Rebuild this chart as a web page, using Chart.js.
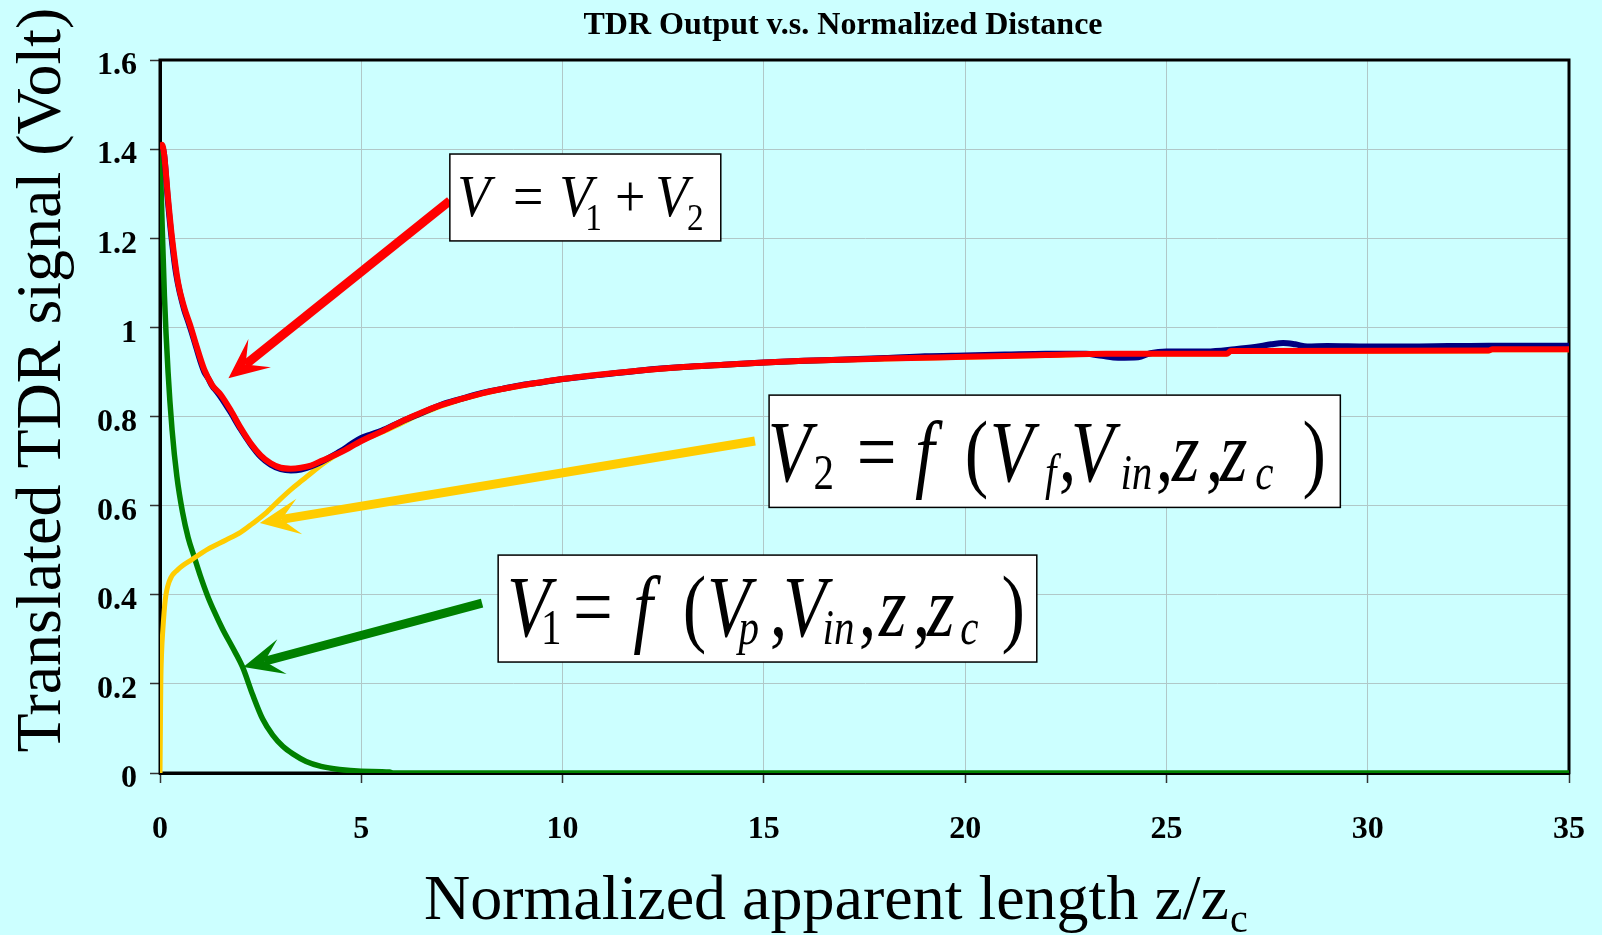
<!DOCTYPE html>
<html>
<head>
<meta charset="utf-8">
<title>TDR Output v.s. Normalized Distance</title>
<script src="https://cdn.jsdelivr.net/npm/chart.js@4.4.1/dist/chart.umd.min.js"></script>
<style>
  html, body { margin: 0; padding: 0; background: #ccffff; }
  canvas { display: block; }
</style>
</head>
<body>
<canvas id="tdrChart" width="1602" height="935"></canvas>
<script>
"use strict";

// ---- axis ticks ----
const xTicks = [0, 5, 10, 15, 20, 25, 30, 35];
const xTickLabels = ["0", "5", "10", "15", "20", "25", "30", "35"];
const yTicks = [0, 0.2, 0.4, 0.6, 0.8, 1, 1.2, 1.4, 1.6];
const yTickLabels = ["0", "0.2", "0.4", "0.6", "0.8", "1", "1.2", "1.4", "1.6"];

// ---- measured TDR trace (blue) ----
const xMeasured = [0, 0.05, 0.1, 0.2, 0.3, 0.4, 0.5, 0.6, 0.7, 0.8,
  0.9, 1.0, 1.1, 1.2, 1.3, 1.4, 1.5, 1.75, 2.0, 2.25,
  2.5, 2.75, 3.0, 3.25, 3.5, 3.75, 4.0, 4.25, 4.5, 4.75,
  5.0, 5.25, 5.5, 6.0, 6.5, 7.0, 7.5, 8.0, 8.5, 9.0,
  9.5, 10, 11, 12, 13, 14, 15, 16, 17, 18,
  19, 20, 21, 22, 23, 23.4, 23.8, 24.3, 24.6, 25,
  26, 26.7, 27.2, 27.6, 27.9, 28.2, 28.5, 29, 30, 31,
  32, 33, 34, 35];
const vMeasured = [1.40, 1.405, 1.39, 1.28, 1.19, 1.12, 1.075, 1.04, 1.013, 0.985,
  0.955, 0.925, 0.9, 0.885, 0.868, 0.857, 0.845, 0.81, 0.772, 0.738,
  0.71, 0.692, 0.682, 0.679, 0.681, 0.688, 0.698, 0.71, 0.723, 0.738,
  0.752, 0.76, 0.768, 0.789, 0.808, 0.827, 0.84, 0.853, 0.862, 0.871,
  0.877, 0.884, 0.894, 0.904, 0.911, 0.916, 0.921, 0.925, 0.928, 0.931,
  0.935, 0.937, 0.939, 0.941, 0.941, 0.936, 0.932, 0.933, 0.942, 0.946,
  0.946, 0.951, 0.956, 0.962, 0.965, 0.962, 0.957, 0.958, 0.957, 0.957,
  0.958, 0.959, 0.959, 0.959];

// ---- model V = V1 + V2 (red) ----
const xModel = [0, 0.05, 0.1, 0.2, 0.3, 0.45, 0.6, 0.75, 0.9, 1.1,
  1.3, 1.5, 1.75, 2.0, 2.25, 2.5, 2.75, 3.0, 3.25, 3.5,
  3.75, 4.0, 4.5, 5.0, 5.5, 6.0, 6.5, 7.0, 8, 9,
  10, 11, 12, 13, 14, 15, 16, 18, 20, 22,
  23.5, 26.5, 26.6, 33, 33.1, 35];
const vModel = [1.40, 1.41, 1.39, 1.29, 1.20, 1.10, 1.045, 1.005, 0.96, 0.905,
  0.87, 0.85, 0.815, 0.775, 0.74, 0.713, 0.695, 0.685, 0.683, 0.685,
  0.69, 0.70, 0.72, 0.745, 0.766, 0.789, 0.809, 0.826, 0.852, 0.870,
  0.884, 0.895, 0.904, 0.911, 0.916, 0.921, 0.925, 0.930, 0.934, 0.938,
  0.941, 0.941, 0.947, 0.948, 0.951, 0.951];

// ---- V2 component (yellow) ----
const xV2 = [0, 0.01, 0.02, 0.04, 0.07, 0.13, 0.23, 0.44, 0.81, 1.2,
  1.64, 2.0, 2.3, 2.65, 2.97, 3.25, 3.55, 3.85, 4.13, 4.45,
  4.79, 5.2, 5.6, 6.0, 6.5, 7.0, 8, 9, 10, 11,
  12, 13, 14, 15, 16, 18, 20, 22, 23.5, 26.5,
  26.6, 33, 33.1, 35];
const vV2 = [0, 0.1, 0.2, 0.27, 0.32, 0.388, 0.43, 0.456, 0.48, 0.503,
  0.523, 0.54, 0.56, 0.585, 0.613, 0.636, 0.658, 0.68, 0.699, 0.718,
  0.736, 0.753, 0.768, 0.785, 0.806, 0.824, 0.851, 0.869, 0.883, 0.894,
  0.903, 0.910, 0.915, 0.920, 0.924, 0.929, 0.933, 0.937, 0.940, 0.940,
  0.946, 0.947, 0.950, 0.950];

// ---- V1 component (green) ----
const xV1 = [0, 0.05, 0.11, 0.2, 0.3, 0.42, 0.56, 0.7, 0.85, 1.0,
  1.18, 1.35, 1.56, 1.8, 2.05, 2.3, 2.55, 2.8, 3.05, 3.3,
  3.63, 4.0, 4.46, 5.0, 5.7, 5.8, 35];
const vV1 = [1.40, 1.24, 1.07, 0.90, 0.77, 0.665, 0.585, 0.528, 0.485, 0.443,
  0.398, 0.362, 0.322, 0.282, 0.238, 0.176, 0.121, 0.085, 0.06, 0.043,
  0.026, 0.015, 0.008, 0.004, 0.002, 0, 0];

const FONT = "'Times New Roman', 'Liberation Serif', serif";
const BG = "#ccffff";
const titleText = "TDR Output v.s. Normalized Distance";
const yLabel = "Translated TDR signal (Volt)";
const xLabelMain = "Normalized apparent length z/z";
const xLabelSub = "c";

// equation boxes: corners in data units, glyph offsets in px from the box's left edge
const equations = [
  { x0: 7.20, y0: 1.389, x1: 13.93, y1: 1.194, size: 60, subSize: 37, base: 62, subBase: 76, sx: 0.9,
    tokens: [["V", "i", 10], ["=", "r", 65], ["V", "i", 112], ["1", "sr", 138], ["+", "r", 167],
             ["V", "i", 208], ["2", "sr", 238]] },
  { x0: 15.13, y0: 0.848, x1: 29.32, y1: 0.596, size: 86, subSize: 50, base: 86, subBase: 94, sx: 0.82,
    tokens: [["V", "i", 2], ["2", "sr", 46], ["=", "r", 91], ["f", "i", 146], ["(", "r", 198],
             ["V", "i", 224], ["f", "si", 276], [",", "r", 292], ["V", "i", 305], ["in", "si", 353],
             [",", "r", 389], ["z", "i", 402], [",", "r", 439], ["z", "i", 450], ["c", "si", 487],
             [")", "r", 535]] },
  { x0: 8.40, y0: 0.489, x1: 21.78, y1: 0.249, size: 86, subSize: 50, base: 81, subBase: 89, sx: 0.82,
    tokens: [["V", "i", 12], ["1", "sr", 46], ["=", "r", 78], ["f", "i", 135], ["(", "r", 187],
             ["V", "i", 212], ["p", "si", 238], [",", "r", 274], ["V", "i", 288], ["in", "si", 326],
             [",", "r", 363], ["z", "i", 380], [",", "r", 417], ["z", "i", 428], ["c", "si", 463],
             [")", "r", 505]] }
];

// arrows: tail and tip in data units
const arrows = [
  { from: [7.20, 1.284], to: [1.70, 0.886], color: "#ff0000" },
  { from: [14.78, 0.745], to: [2.48, 0.561], color: "#ffcc00" },
  { from: [8.00, 0.381], to: [2.07, 0.238], color: "#008000" }
];

const toPoints = (xs, ys) => xs.map((x, i) => ({ x: x, y: ys[i] }));

// fill whole canvas with the cyan background
const backgroundPlugin = {
  id: "background",
  beforeDraw(chart) {
    const ctx = chart.ctx;
    ctx.save();
    ctx.fillStyle = BG;
    ctx.fillRect(0, 0, chart.width, chart.height);
    ctx.restore();
  }
};

// black frame round the plot area
const framePlugin = {
  id: "frame",
  beforeDatasetsDraw(chart) {
    const { left, top, right, bottom } = chart.chartArea;
    const ctx = chart.ctx;
    ctx.save();
    ctx.strokeStyle = "#000";
    ctx.lineWidth = 3;
    ctx.strokeRect(left, top, right - left, bottom - top);
    ctx.restore();
  }
};

function drawArrow(ctx, x0, y0, x1, y1, color) {
  const len = Math.hypot(x1 - x0, y1 - y0);
  const ux = (x1 - x0) / len, uy = (y1 - y0) / len;
  const px = -uy, py = ux;
  const headLen = 40, half = 18, notch = 22;
  const nx = x1 - ux * notch, ny = y1 - uy * notch;
  ctx.strokeStyle = color;
  ctx.lineWidth = 9;
  ctx.lineCap = "butt";
  ctx.beginPath();
  ctx.moveTo(x0, y0);
  ctx.lineTo(nx, ny);
  ctx.stroke();
  ctx.fillStyle = color;
  ctx.beginPath();
  ctx.moveTo(x1, y1);
  ctx.lineTo(x1 - ux * headLen + px * half, y1 - uy * headLen + py * half);
  ctx.lineTo(nx, ny);
  ctx.lineTo(x1 - ux * headLen - px * half, y1 - uy * headLen - py * half);
  ctx.closePath();
  ctx.fill();
}

function drawEquation(ctx, eq, xs, ys) {
  const left = xs.getPixelForValue(eq.x0), right = xs.getPixelForValue(eq.x1);
  const top = ys.getPixelForValue(eq.y0), bottom = ys.getPixelForValue(eq.y1);
  ctx.fillStyle = "#fff";
  ctx.fillRect(left, top, right - left, bottom - top);
  ctx.strokeStyle = "#000";
  ctx.lineWidth = 1.5;
  ctx.strokeRect(left, top, right - left, bottom - top);
  ctx.fillStyle = "#000";
  ctx.textAlign = "left";
  ctx.textBaseline = "alphabetic";
  eq.tokens.forEach(([t, style, dx]) => {
    const sub = style[0] === "s";
    const italic = style.endsWith("i");
    ctx.font = `${italic ? "italic " : ""}${sub ? eq.subSize : eq.size}px ${FONT}`;
    const m = ctx.measureText(t);
    ctx.save();
    ctx.translate(left + dx, top + (sub ? eq.subBase : eq.base));
    ctx.scale(eq.sx, 1);   // equation glyphs are narrower than plain Times
    ctx.fillText(t, m.actualBoundingBoxLeft, 0);
    ctx.restore();
  });
}

// arrows and equation boxes over the curves
const annotationPlugin = {
  id: "annotations",
  afterDatasetsDraw(chart) {
    const ctx = chart.ctx;
    const xs = chart.scales.x, ys = chart.scales.y;
    ctx.save();
    arrows.forEach(a => {
      drawArrow(ctx, xs.getPixelForValue(a.from[0]), ys.getPixelForValue(a.from[1]),
        xs.getPixelForValue(a.to[0]), ys.getPixelForValue(a.to[1]), a.color);
    });
    equations.forEach(eq => drawEquation(ctx, eq, xs, ys));
    ctx.restore();
  }
};

// chart title and axis titles (x title needs a subscript)
const labelsPlugin = {
  id: "labels",
  afterDraw(chart) {
    const ctx = chart.ctx;
    ctx.save();
    ctx.fillStyle = "#000";
    ctx.font = `bold 32px ${FONT}`;
    ctx.textAlign = "center";
    ctx.textBaseline = "middle";
    ctx.fillText(titleText, 843, 26);

    ctx.font = `64px ${FONT}`;
    ctx.textBaseline = "alphabetic";
    ctx.save();
    ctx.translate(60, 380);
    ctx.rotate(-Math.PI / 2);
    ctx.fillText(yLabel, 0, 0);
    ctx.restore();

    ctx.textAlign = "left";
    ctx.fillText(xLabelMain, 424, 919);
    const w = ctx.measureText(xLabelMain).width;
    ctx.font = `40px ${FONT}`;
    ctx.fillText(xLabelSub, 424 + w + 1, 932);
    ctx.restore();
  }
};

const gridColor = "#b0c8c8";
const tickFont = { family: FONT, size: 32, weight: "bold" };

const ctx = document.getElementById("tdrChart").getContext("2d");
new Chart(ctx, {
  type: "scatter",
  data: {
    datasets: [
      { label: "Model V", data: toPoints(xModel, vModel), borderColor: "#ff0000", borderWidth: 6, order: 0 },
      { label: "Measured", data: toPoints(xMeasured, vMeasured), borderColor: "#000080", borderWidth: 6, order: 1 },
      { label: "V2", data: toPoints(xV2, vV2), borderColor: "#ffcc00", borderWidth: 5, order: 2 },
      { label: "V1", data: toPoints(xV1, vV1), borderColor: "#008000", borderWidth: 5.5, order: 3 }
    ].map(ds => Object.assign(ds, {
      showLine: true,
      pointRadius: 0,
      pointHoverRadius: 0,
      fill: false,
      cubicInterpolationMode: "monotone"
    }))
  },
  options: {
    responsive: false,
    devicePixelRatio: 1,
    animation: false,
    layout: { padding: { top: 60, right: 33, left: 0, bottom: 0 } },
    plugins: {
      legend: { display: false },
      title: { display: false },
      tooltip: { enabled: false }
    },
    scales: {
      x: {
        type: "linear",
        min: 0,
        max: 35,
        afterBuildTicks: s => { s.ticks = xTicks.map(v => ({ value: v })); },
        afterFit: s => {
          s.height = 162;
          // tick padding would otherwise widen the right margin
          s.paddingLeft = 0;
          s.paddingRight = 0;
        },
        ticks: {
          callback: (v, i) => xTickLabels[i],
          font: tickFont,
          color: "#000",
          padding: 28,
          maxRotation: 0,
          autoSkip: false
        },
        grid: { color: gridColor, lineWidth: 1, tickLength: 10, tickColor: "#333", tickWidth: 1.5 },
        border: { color: "#000", width: 3 }
      },
      y: {
        type: "linear",
        min: 0,
        max: 1.6,
        afterBuildTicks: s => { s.ticks = yTicks.map(v => ({ value: v })); },
        afterFit: s => { s.width = 160; },
        ticks: {
          callback: (v, i) => yTickLabels[i],
          font: tickFont,
          color: "#000",
          padding: 13,
          labelOffset: 6,
          autoSkip: false
        },
        grid: { color: gridColor, lineWidth: 1, tickLength: 10, tickColor: "#333", tickWidth: 1.5 },
        border: { color: "#000", width: 3 }
      }
    }
  },
  plugins: [backgroundPlugin, framePlugin, annotationPlugin, labelsPlugin]
});
</script>
</body>
</html>
